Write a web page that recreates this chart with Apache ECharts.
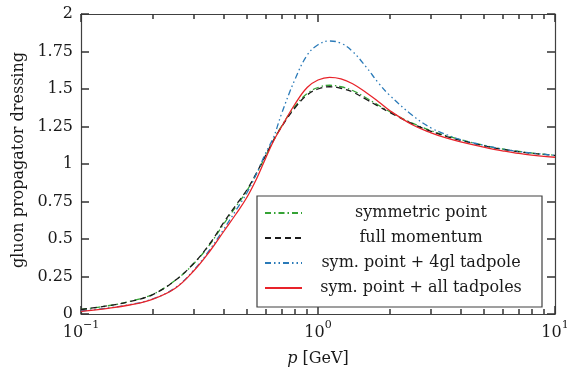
<!DOCTYPE html>
<html><head><meta charset="utf-8">
<script src="https://cdn.jsdelivr.net/npm/echarts@6/dist/echarts.min.js"></script>
<style>html,body{margin:0;padding:0;background:#fff}#c{width:567px;height:368px}</style>
</head><body><div id="c"></div>
<script>
// momentum p [GeV]
const momenta = [0.1, 0.13, 0.16, 0.2, 0.25, 0.3, 0.35, 0.4, 0.45, 0.5, 0.55, 0.6, 0.65, 0.7, 0.8, 0.9, 1.0, 1.12, 1.25, 1.4, 1.6, 1.8, 2.0, 2.5, 3.0, 3.5, 4.0, 5.0, 6.0, 7.5, 10];
const symmetricPoint = [0.03, 0.055, 0.083, 0.13, 0.225, 0.338, 0.465, 0.6, 0.715, 0.82, 0.935, 1.05, 1.16, 1.25, 1.385, 1.47, 1.51, 1.525, 1.515, 1.49, 1.44, 1.392, 1.35, 1.272, 1.222, 1.187, 1.162, 1.125, 1.1, 1.078, 1.058];
const fullMomentum = [0.03, 0.055, 0.082, 0.128, 0.225, 0.34, 0.47, 0.61, 0.725, 0.825, 0.94, 1.055, 1.16, 1.245, 1.375, 1.46, 1.5, 1.515, 1.505, 1.48, 1.43, 1.385, 1.345, 1.268, 1.218, 1.183, 1.158, 1.122, 1.098, 1.076, 1.057];
const tadpole4gl = [0.02, 0.04, 0.062, 0.1, 0.175, 0.295, 0.43, 0.565, 0.69, 0.805, 0.935, 1.07, 1.18, 1.33, 1.565, 1.725, 1.795, 1.82, 1.805, 1.75, 1.645, 1.54, 1.46, 1.325, 1.24, 1.195, 1.163, 1.125, 1.1, 1.078, 1.058];
const tadpolesAll = [0.018, 0.038, 0.06, 0.098, 0.172, 0.29, 0.42, 0.55, 0.665, 0.775, 0.9, 1.035, 1.155, 1.245, 1.4, 1.51, 1.56, 1.578, 1.568, 1.535, 1.475, 1.415, 1.358, 1.262, 1.208, 1.172, 1.148, 1.113, 1.088, 1.064, 1.045];
const seriesNames = ['symmetric point', 'full momentum', 'sym. point + 4gl tadpole', 'sym. point + all tadpoles'];
const xMinorTicks = [0.2, 0.3, 0.4, 0.5, 0.6, 0.7, 0.8, 0.9, 2, 3, 4, 5, 6, 7, 8, 9];
const xExponentLabels = {'-1': '−1', '0': '0', '1': '1'};

const FONT = 'DejaVu Serif';
const TXT = '#1a1a1a';
const FRAME = '#404040';
const TICK = '#333333';

const chart = echarts.init(document.getElementById('c'));
const pairs = arr => momenta.map((p, i) => [p, arr[i]]);

const xMain = (pos, withLabels) => ({
  type: 'log', logBase: 10, min: 0.1, max: 10, position: pos,
  axisLine: {show: true, onZero: false, lineStyle: {color: FRAME, width: 1.2}},
  axisTick: {show: true, inside: true, length: 8, lineStyle: {color: TICK, width: 1.5}},
  splitLine: {show: false},
  axisLabel: withLabels ? {
    show: true, margin: 6, color: TXT,
    formatter: v => '{b|10}{s|' + xExponentLabels[String(Math.round(Math.log10(v)))] + '}',
    rich: {
      b: {fontFamily: FONT, fontSize: 16, color: TXT, padding: [5, 0, 0, 0]},
      s: {fontFamily: FONT, fontSize: 11, color: TXT, verticalAlign: 'top'}
    }
  } : {show: false}
});
// tick-only axes shifted into the plot so that their outward ticks sit inside the frame
const xTickAxis = (pos, len, values) => ({
  type: 'value', min: -1, max: 1, interval: 1, position: pos, offset: -len,
  axisLine: {show: false, onZero: false},
  axisTick: Object.assign({show: true, length: len, lineStyle: {color: TICK, width: 1.5}}, values ? {customValues: values} : {}),
  axisLabel: {show: false}, splitLine: {show: false}
});
const yAx = (pos, withLabels) => ({
  type: 'value', min: 0, max: 2, interval: 0.25, position: pos,
  axisLine: {show: true, onZero: false, lineStyle: {color: FRAME, width: 1.2}},
  axisTick: {show: true, inside: true, length: 8, lineStyle: {color: TICK, width: 1.5}},
  splitLine: {show: false},
  axisLabel: withLabels ? {show: true, margin: 8, fontFamily: FONT, fontSize: 16, color: TXT} : {show: false}
});
const yTickAxis = pos => ({
  type: 'value', min: 0, max: 2, interval: 0.25, position: pos, offset: -8,
  axisLine: {show: false, onZero: false},
  axisTick: {show: true, length: 8, lineStyle: {color: TICK, width: 1.5}},
  axisLabel: {show: false}, splitLine: {show: false}
});

const xBottom = xMain('bottom', true);
xBottom.name = '{i|p} [GeV]';
xBottom.nameLocation = 'middle';
xBottom.nameGap = 37;
xBottom.nameTextStyle = {fontFamily: FONT, fontSize: 16, color: TXT, rich: {i: {fontFamily: FONT, fontSize: 16, fontStyle: 'italic', color: TXT}}};

const yLeft = yAx('left', true);
yLeft.name = 'gluon propagator dressing';
yLeft.nameLocation = 'middle';
yLeft.nameGap = 52;
yLeft.nameTextStyle = {fontFamily: FONT, fontSize: 16, color: TXT, padding: [0, 0, 0, 8]};

const styles = [
  {color: '#35a335', type: [6, 3, 1.5, 3]},
  {color: '#1a1a1a', type: [6, 4]},
  {color: '#2a7ab8', type: [6, 3, 1.5, 3, 1.5, 3]},
  {color: '#e8232a', type: 'solid'}
];
const dataSets = [symmetricPoint, fullMomentum, tadpole4gl, tadpolesAll];
const minorLog = xMinorTicks.map(v => Math.log10(v));

chart.setOption({
  animation: false,
  grid: {left: 81, right: 12, top: 14, bottom: 54, outerBoundsMode: 'none'},
  xAxis: [
    xBottom, xMain('top', false),
    xTickAxis('bottom', 8), xTickAxis('top', 8),
    xTickAxis('bottom', 5, minorLog), xTickAxis('top', 5, minorLog)
  ],
  yAxis: [yLeft, yAx('right', false), yTickAxis('left'), yTickAxis('right')],
  legend: {
    orient: 'vertical', left: 257, top: 196,
    padding: [9, 7, 11, 7], itemGap: 9, itemWidth: 37, itemHeight: 14, itemTextGap: 5,
    borderColor: FRAME, borderWidth: 1.2, backgroundColor: '#fff',
    itemStyle: {opacity: 0, borderWidth: 0},
    data: seriesNames,
    formatter: name => '{c|' + name + '}',
    textStyle: {fontFamily: FONT, fontSize: 16, color: TXT, width: 228, lineHeight: 14,
      rich: {c: {align: 'center', fontFamily: FONT, fontSize: 16, color: TXT, lineHeight: 14}}}
  },
  series: dataSets.map((d, i) => ({
    name: seriesNames[i], type: 'line', xAxisIndex: 0, yAxisIndex: 0,
    data: pairs(d), symbol: 'none', smooth: 0.4,
    lineStyle: {color: styles[i].color, width: 1.3, type: styles[i].type},
    itemStyle: {color: styles[i].color},
    z: 2 + i
  }))
});
</script></body></html>
